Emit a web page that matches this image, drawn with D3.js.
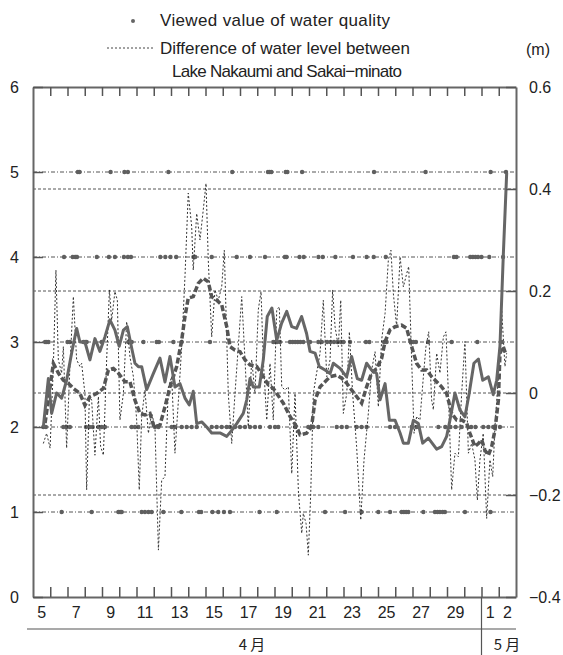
<!DOCTYPE html>
<html>
<head>
<meta charset="utf-8">
<title>Water quality and water level difference</title>
<script src="https://d3js.org/d3.v7.min.js"></script>
<style>
  body { margin: 0; background: #fff; }
  text { font-family: "Liberation Sans", Arial, "Noto Sans CJK JP", sans-serif; fill: #222; }
</style>
</head>
<body>
<svg width="563" height="655"></svg>
<script>
// time is in days counted from 5 April 00:00 (28 days up to the end of 2 May)
const aprilLabels = [5, 7, 9, 11, 13, 15, 17, 19, 21, 23, 25, 27, 29];
const mayLabels = [1, 2];
const monthLabels = ["4 月", "5 月"];

// viewed value of water quality: observation times on each level
const viewedLv5 = [2.60, 2.70, 4.50, 5.30, 5.50, 7.85, 11.55, 13.62, 13.72, 13.82, 14.65, 14.75, 15.60, 19.77, 22.76, 26.53, 27.42];
const viewedLv4 = [1.80, 2.30, 2.45, 2.55, 3.70, 4.40, 4.75, 5.27, 5.50, 5.68, 7.38, 7.67, 7.97, 8.30, 9.30, 9.40, 10.36, 11.81, 12.58, 13.45,
  14.60, 14.70, 15.45, 15.70, 16.55, 16.80, 17.53, 18.55, 19.34, 19.75, 20.45, 24.40, 24.55, 25.35, 25.50, 25.65, 25.80, 26.00, 26.45, 27.25];
const viewedLv3 = [0.70, 0.80, 0.90, 2.00, 2.14, 2.92, 3.02, 3.11, 3.98, 4.95, 5.53, 5.63, 5.72, 6.40, 7.17, 7.30, 8.14, 8.62, 10.26,
  13.93, 14.05, 14.15, 14.32, 14.90, 15.05, 15.20, 15.35, 15.50, 15.67, 16.06, 16.54, 16.74, 17.05, 17.25, 17.45, 17.65, 17.85, 18.00,
  18.38, 19.30, 19.50, 20.35, 20.50, 21.90, 22.05, 22.20, 22.90, 24.27, 25.76, 27.17];
const viewedLv2 = [0.60, 0.75, 1.76, 1.95, 2.14, 3.07, 3.27, 3.46, 3.79, 3.98, 4.17, 5.72, 5.91, 6.11, 7.07, 7.27, 8.04, 8.23, 8.62, 8.91,
  9.20, 9.49, 10.36, 10.65, 10.94, 11.23, 11.42, 11.71, 12.00, 12.29, 12.58, 12.87, 13.16, 13.74, 14.03, 14.22, 15.19, 15.96, 16.25,
  16.54, 17.61, 17.90, 18.19, 18.76, 19.05, 19.34, 20.70, 20.99, 21.95, 22.24, 23.50, 23.90, 24.20, 24.50, 24.85, 25.40, 25.65,
  26.10, 26.40, 26.68, 27.07];
const viewedLv1 = [1.66, 3.40, 4.95, 5.05, 5.14, 6.30, 6.49, 6.69, 6.88, 7.56, 8.60, 9.62, 9.75, 10.40, 10.74, 11.07, 11.42, 13.13,
  14.13, 16.93, 18.09, 19.05, 20.02, 20.70, 21.37, 21.50, 21.63, 21.76, 22.63, 23.30, 23.45, 23.59, 23.75, 23.88, 25.04, 26.52];

// smoothed viewed value (left axis) [day, value]
const qualityAvg = [[0.60, 2.00], [0.89, 2.57], [1.08, 2.16], [1.37, 2.40], [1.66, 2.34], [1.95, 2.55], [2.24, 2.87], [2.53, 3.16],
  [2.72, 3.00], [3.01, 3.00], [3.30, 2.79], [3.59, 3.04], [3.88, 2.89], [4.17, 3.06], [4.46, 3.26], [4.75, 3.14], [5.00, 2.95],
  [5.24, 3.14], [5.47, 3.18], [5.72, 2.93], [5.91, 2.75], [6.11, 2.71], [6.30, 2.71], [6.59, 2.44], [6.98, 2.63], [7.36, 2.81],
  [7.65, 2.53], [7.94, 2.83], [8.23, 2.47], [8.52, 2.51], [8.81, 2.34], [9.06, 2.26], [9.29, 2.42], [9.49, 2.04], [9.78, 2.06],
  [10.07, 2.00], [10.36, 1.93], [10.84, 1.93], [11.23, 1.89], [11.52, 1.96], [11.81, 2.04], [12.19, 2.16], [12.39, 2.32],
  [12.58, 2.57], [12.77, 2.47], [13.12, 2.47], [13.35, 2.79], [13.58, 3.30], [13.85, 3.40], [14.13, 3.02], [14.41, 3.22],
  [14.71, 3.36], [15.00, 3.18], [15.28, 3.16], [15.57, 3.30], [15.86, 3.10], [16.06, 2.89], [16.35, 2.87], [16.60, 2.71],
  [16.93, 2.67], [17.22, 2.63], [17.41, 2.75], [17.80, 2.69], [18.18, 2.59], [18.47, 2.83], [18.80, 2.57], [19.05, 2.55],
  [19.34, 2.75], [19.63, 2.67], [19.92, 2.63], [20.12, 2.32], [20.41, 2.51], [20.66, 2.08], [20.99, 2.08], [21.28, 1.93],
  [21.47, 1.81], [21.76, 1.81], [22.05, 2.08], [22.34, 2.04], [22.59, 1.81], [22.92, 1.87], [23.40, 1.74], [23.69, 1.77],
  [23.98, 1.89], [24.17, 2.08], [24.46, 2.40], [24.75, 2.20], [25.04, 2.12], [25.29, 2.40], [25.56, 2.75], [25.82, 2.80],
  [26.07, 2.55], [26.40, 2.59], [26.68, 2.38], [26.88, 2.55], [27.07, 2.95], [27.26, 4.00], [27.46, 4.99]];

// smoothed water level difference (right axis, m) [day, m]
const levelAvg = [[0.70, -0.059], [1.18, 0.058], [1.47, 0.039], [1.76, 0.025], [2.05, 0.019], [2.34, 0.009], [2.72, -0.001],
  [3.01, -0.024], [3.30, -0.007], [3.69, -0.001], [4.08, 0.009], [4.37, 0.045], [4.66, 0.048], [4.95, 0.039], [5.33, 0.022],
  [5.62, 0.022], [5.91, -0.014], [6.20, -0.040], [6.49, -0.043], [6.78, -0.040], [7.01, -0.066], [7.36, -0.063], [7.65, -0.027],
  [7.94, 0.012], [8.33, 0.052], [8.62, 0.104], [8.81, 0.150], [9.00, 0.186], [9.29, 0.189], [9.58, 0.215], [9.87, 0.225],
  [10.16, 0.218], [10.36, 0.189], [10.65, 0.182], [10.94, 0.173], [11.23, 0.130], [11.42, 0.091], [11.71, 0.084], [12.00, 0.081],
  [12.29, 0.065], [12.58, 0.055], [12.97, 0.052], [13.35, 0.032], [13.64, 0.016], [13.93, 0.009], [14.13, -0.001], [14.51, -0.020],
  [14.90, -0.046], [15.28, -0.066], [15.48, -0.082], [15.86, -0.079], [16.15, -0.066], [16.35, -0.014], [16.64, 0.012],
  [16.93, 0.022], [17.22, 0.032], [17.61, 0.035], [17.90, 0.029], [18.19, 0.019], [18.47, 0.006], [18.76, -0.007], [19.05, -0.020],
  [19.34, 0.012], [19.63, 0.039], [19.92, 0.048], [20.21, 0.068], [20.41, 0.101], [20.70, 0.124], [20.99, 0.130], [21.37, 0.133],
  [21.66, 0.127], [21.95, 0.091], [22.24, 0.058], [22.53, 0.045], [22.82, 0.045], [23.11, 0.032], [23.40, 0.022], [23.69, 0.012],
  [23.98, -0.001], [24.27, -0.040], [24.56, -0.053], [24.85, -0.053], [25.14, -0.059], [25.33, -0.079], [25.62, -0.105],
  [25.82, -0.099], [26.01, -0.092], [26.20, -0.112], [26.40, -0.122], [26.59, -0.105], [26.78, -0.073], [26.98, -0.014],
  [27.07, 0.078], [27.26, 0.091], [27.42, 0.075]];

// difference of water level between Lake Nakaumi and Sakai-minato (m) [day, m]
const levelDiff = [[0.60, -0.099], [0.79, -0.079], [0.99, -0.108], [1.18, 0.052], [1.33, 0.241], [1.47, 0.065], [1.66, 0.039],
  [1.76, 0.091], [1.95, -0.108], [2.14, 0.052], [2.34, 0.189], [2.53, 0.065], [2.72, 0.052], [2.82, 0.058], [3.01, -0.001],
  [3.11, -0.190], [3.27, -0.007], [3.40, -0.014], [3.59, -0.122], [3.79, -0.007], [3.92, -0.105], [4.08, -0.122], [4.27, 0.065],
  [4.43, 0.202], [4.56, 0.143], [4.75, 0.199], [4.89, 0.182], [5.04, -0.053], [5.24, -0.001], [5.43, 0.140], [5.62, 0.071],
  [5.82, 0.032], [6.01, -0.053], [6.16, -0.190], [6.30, -0.046], [6.49, 0.006], [6.69, -0.079], [6.88, -0.040], [7.07, -0.066],
  [7.27, -0.308], [7.46, -0.171], [7.65, -0.164], [7.85, 0.012], [8.04, 0.032], [8.23, -0.118], [8.43, -0.014], [8.62, 0.091],
  [8.81, 0.228], [9.00, 0.392], [9.20, 0.326], [9.29, 0.241], [9.49, 0.352], [9.68, 0.300], [9.87, 0.359], [10.03, 0.411],
  [10.16, 0.261], [10.36, 0.110], [10.55, 0.202], [10.74, 0.182], [10.94, 0.208], [11.09, 0.280], [11.32, -0.001], [11.52, -0.099],
  [11.71, -0.001], [11.90, 0.091], [12.10, 0.189], [12.29, 0.065], [12.48, -0.066], [12.68, 0.065], [12.87, -0.001], [13.06, 0.163],
  [13.22, 0.199], [13.35, 0.065], [13.55, -0.053], [13.74, 0.058], [13.93, -0.053], [14.13, 0.163], [14.28, 0.169], [14.42, 0.012],
  [14.61, 0.006], [14.80, 0.012], [15.00, -0.158], [15.19, -0.001], [15.39, -0.197], [15.58, -0.275], [15.67, -0.236],
  [15.83, -0.256], [15.96, -0.318], [16.10, -0.197], [16.25, -0.001], [16.44, 0.039], [16.64, 0.078], [16.83, 0.182], [17.03, 0.032],
  [17.22, 0.065], [17.37, 0.202], [17.51, 0.130], [17.70, 0.091], [17.84, 0.182], [17.99, -0.040], [18.19, -0.001], [18.34, 0.120],
  [18.53, -0.001], [18.76, -0.105], [19.00, -0.249], [19.19, -0.131], [19.44, -0.040], [19.63, 0.045], [19.83, 0.081],
  [20.02, -0.027], [20.21, 0.104], [20.41, 0.156], [20.60, 0.261], [20.75, 0.280], [20.89, 0.195], [21.08, 0.130], [21.28, 0.267],
  [21.47, 0.208], [21.67, 0.235], [21.78, 0.248], [21.95, 0.065], [22.09, -0.079], [22.24, -0.046], [22.43, -0.053], [22.63, 0.032],
  [22.78, 0.091], [22.94, 0.120], [23.11, -0.014], [23.21, -0.033], [23.40, 0.078], [23.59, 0.039], [23.79, 0.110], [23.94, 0.120],
  [24.08, -0.001], [24.27, -0.190], [24.46, -0.118], [24.66, -0.125], [24.85, -0.001], [25.04, 0.101], [25.24, -0.118],
  [25.43, -0.099], [25.62, -0.131], [25.76, -0.210], [25.91, -0.131], [26.10, -0.079], [26.30, -0.246], [26.49, -0.131],
  [26.65, -0.164], [26.78, -0.066], [26.98, 0.032], [27.17, 0.163], [27.36, 0.052], [27.46, 0.078]];

const leftTicks = [0, 1, 2, 3, 4, 5, 6];
const rightTicks = [-0.4, -0.2, 0, 0.2, 0.4, 0.6];

const svg = d3.select("svg");
const plotLeft = 33, plotRight = 516, plotTop = 87, plotBottom = 597;
const grey = "#5f5f5f";

const x = d3.scaleLinear().domain([0, 28]).range([plotLeft, plotRight]);
const yL = d3.scaleLinear().domain([0, 6]).range([plotBottom, plotTop]);
const yR = d3.scaleLinear().domain([-0.4, 0.6]).range([plotBottom, plotTop]);

// grid lines
svg.append("g").selectAll("line").data(rightTicks.slice(1, -1)).join("line")
  .attr("x1", plotLeft).attr("x2", plotRight)
  .attr("y1", d => yR(d)).attr("y2", d => yR(d))
  .attr("stroke", "#555").attr("stroke-dasharray", "3,2");
svg.append("g").selectAll("line").data(leftTicks.slice(1, -1)).join("line")
  .attr("x1", plotLeft).attr("x2", plotRight)
  .attr("y1", d => yL(d)).attr("y2", d => yL(d))
  .attr("stroke", "#555").attr("stroke-dasharray", "4,2,1,2");

// viewed value dots
const dots = [[1, viewedLv1], [2, viewedLv2], [3, viewedLv3], [4, viewedLv4], [5, viewedLv5]]
  .flatMap(([lv, ts]) => ts.map(t => [t, lv]));
svg.append("g").selectAll("circle").data(dots).join("circle")
  .attr("cx", d => x(d[0])).attr("cy", d => yL(d[1])).attr("r", 2.2)
  .attr("fill", grey);

// lines
const lineR = d3.line().x(d => x(d[0])).y(d => yR(d[1]));
const lineL = d3.line().x(d => x(d[0])).y(d => yL(d[1]));

svg.append("path").datum(levelDiff).attr("d", lineR)
  .attr("fill", "none").attr("stroke", "#333").attr("stroke-width", 1)
  .attr("stroke-dasharray", "2,2");
svg.append("path").datum(levelAvg).attr("d", lineR)
  .attr("fill", "none").attr("stroke", "#555").attr("stroke-width", 3.5)
  .attr("stroke-dasharray", "6,2.5");
svg.append("path").datum(qualityAvg).attr("d", lineL)
  .attr("fill", "none").attr("stroke", "#666").attr("stroke-width", 3)
  .attr("stroke-linejoin", "round");

// axes
const dayBounds = d3.range(1, 28);
const styleAxis = g => {
  g.select(".domain").attr("stroke", "#666").attr("stroke-width", 2);
  g.selectAll(".tick line").attr("stroke", "#555").attr("stroke-width", 1.5);
  g.selectAll(".tick text").attr("font-size", 16).attr("fill", "#222")
    .attr("font-family", "'Liberation Sans', Arial, sans-serif");
};
svg.append("g").attr("transform", `translate(0,${plotBottom})`)
  .call(d3.axisBottom(x).tickValues(dayBounds).tickSize(-10).tickSizeOuter(0).tickFormat(""))
  .call(styleAxis);
svg.append("g").attr("transform", `translate(0,${plotTop})`)
  .call(d3.axisTop(x).tickValues(dayBounds).tickSize(-9).tickSizeOuter(0).tickFormat(""))
  .call(styleAxis);
svg.append("g").attr("transform", `translate(${plotLeft},0)`)
  .call(d3.axisLeft(yL).tickValues(leftTicks).tickSize(-10).tickSizeOuter(0).tickPadding(14)
    .tickFormat(d3.format("d")))
  .call(styleAxis);
svg.append("g").attr("transform", `translate(${plotRight},0)`)
  .call(d3.axisRight(yR).tickValues(rightTicks).tickSize(-10).tickSizeOuter(0).tickPadding(13)
    .tickFormat(d => d === 0 ? "0" : (d < 0 ? "\u2212" : "") + Math.abs(d).toFixed(1)))
  .call(styleAxis);

// day labels
const dayLabels = aprilLabels.map(d => ({ label: d, idx: d - 5 }))
  .concat(mayLabels.map(d => ({ label: d, idx: 26 + d - 1 })));
svg.append("g").selectAll("text").data(dayLabels).join("text")
  .attr("x", d => x(d.idx + 0.5)).attr("y", 618)
  .attr("text-anchor", "middle").attr("font-size", 16)
  .text(d => d.label);

// month row
svg.append("line").attr("x1", 27).attr("x2", plotRight).attr("y1", 629).attr("y2", 629)
  .attr("stroke", "#555").attr("stroke-width", 1.2);
svg.append("line").attr("x1", x(26)).attr("x2", x(26)).attr("y1", plotBottom).attr("y2", 655)
  .attr("stroke", "#555").attr("stroke-width", 1.2);
svg.append("text").attr("x", 252).attr("y", 650).attr("text-anchor", "middle")
  .attr("font-size", 15).style("font-family", "'Noto Sans CJK JP', sans-serif").text(monthLabels[0]);
svg.append("text").attr("x", 507).attr("y", 650).attr("text-anchor", "middle")
  .attr("font-size", 15).style("font-family", "'Noto Sans CJK JP', sans-serif").text(monthLabels[1]);

// unit
svg.append("text").attr("x", 538).attr("y", 55).attr("text-anchor", "middle")
  .attr("font-size", 16).text("(m)");

// legend
const legend = svg.append("g");
legend.append("circle").attr("cx", 133).attr("cy", 21).attr("r", 2).attr("fill", "#666");
legend.append("text").attr("x", 160).attr("y", 26).attr("font-size", 17).attr("fill", "#444")
  .attr("textLength", 230).text("Viewed value of water quality");
legend.append("line").attr("x1", 107).attr("x2", 155).attr("y1", 48).attr("y2", 48)
  .attr("stroke", "#444").attr("stroke-dasharray", "2,2");
legend.append("text").attr("x", 160).attr("y", 54).attr("font-size", 17).attr("fill", "#444")
  .attr("textLength", 250).text("Difference of water level between");
legend.append("text").attr("x", 172).attr("y", 77).attr("font-size", 17).attr("fill", "#444")
  .attr("textLength", 230).text("Lake Nakaumi and Sakai\u2212minato");
</script>
</body>
</html>
